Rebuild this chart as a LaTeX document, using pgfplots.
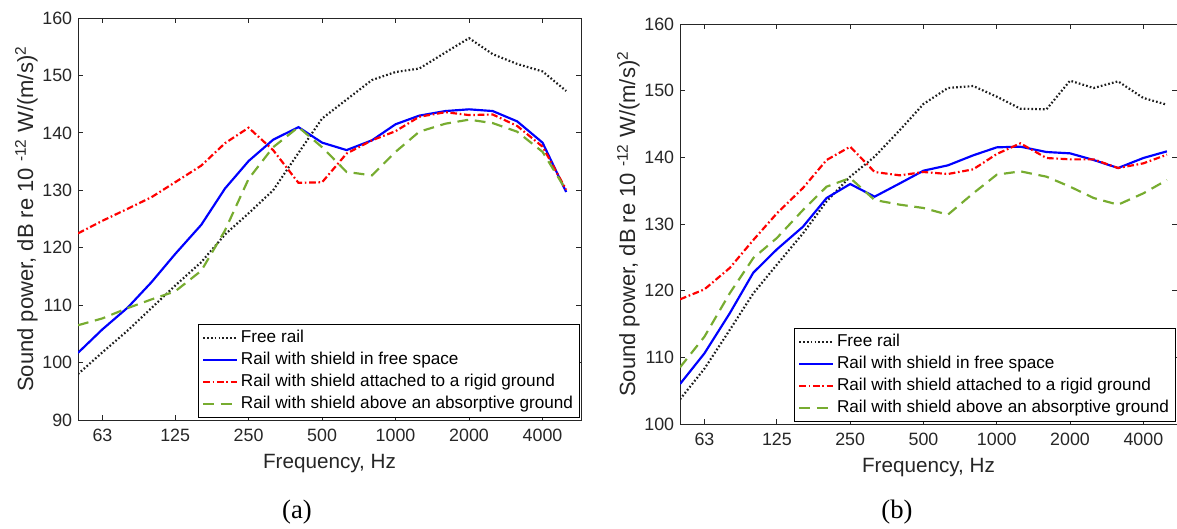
\documentclass[border=0pt]{standalone}
\usepackage{fontspec}
\setmainfont{Liberation Sans}
\newfontfamily\timesfont{Liberation Serif}
\usepackage{pgfplots}
\pgfplotsset{compat=1.18}
\usepackage{pgfplotstable}

\definecolor{axgray}{RGB}{38,38,38}
\definecolor{mgreen}{rgb}{0.466,0.674,0.188}
\definecolor{dotgray}{RGB}{30,30,30}

% columns: frequency, free rail, shield in free space, rigid ground, absorptive ground
\pgfplotstableread{
f     free   blue   red    green
50    98.0   101.7  122.5  106.5
63    101.8  105.8  124.7  107.7
80    105.6  109.6  126.8  109.5
100   109.5  114.0  128.8  111.0
125   113.4  118.9  131.4  112.4
160   117.5  124.0  134.3  116.0
200   122.3  130.3  138.2  123.0
250   126.0  135.1  140.9  132.0
315   130.0  138.8  137.0  137.5
400   136.5  141.0  131.3  141.0
500   142.5  138.3  131.4  137.5
630   145.8  137.0  136.4  133.2
800   149.2  138.7  138.7  132.6
1000  150.6  141.5  140.3  136.7
1250  151.2  143.0  142.8  140.2
1600  154.0  143.8  143.6  141.6
2000  156.5  144.1  143.1  142.3
2500  153.7  143.8  143.2  141.7
3150  152.0  142.0  141.2  140.2
4000  150.7  138.3  137.6  136.7
5000  147.3  129.7  130.1  130.0
}\dataA

\pgfplotstableread{
f     free   blue   red    green
50    103.7  106.0  118.7  108.5
63    108.3  110.6  120.2  113.1
80    114.1  116.6  123.4  119.6
100   119.6  122.7  127.6  124.9
125   123.9  126.2  131.6  127.9
160   128.6  129.6  135.4  132.1
200   133.4  133.9  139.6  135.6
250   137.1  136.0  141.6  136.9
315   140.1  134.1  137.8  133.6
400   144.1  136.1  137.3  132.9
500   148.0  138.0  137.8  132.4
630   150.4  138.8  137.5  131.4
800   150.7  140.3  138.2  134.6
1000  149.1  141.5  140.5  137.4
1250  147.3  141.6  142.1  137.9
1600  147.2  140.8  139.9  137.1
2000  151.5  140.6  139.7  135.6
2500  150.4  139.6  139.7  133.9
3150  151.4  138.4  138.4  132.9
4000  148.9  139.9  139.1  134.6
5000  147.9  140.9  140.4  136.6
}\dataB

\tikzset{
  freestyle/.style={dotgray, line width=1.3pt, dash pattern=on 1.0pt off 1.3pt},
  bluestyle/.style={blue, line width=1.3pt},
  redstyle/.style={red, line width=1.3pt, dash pattern=on 4pt off 1.6pt on 1pt off 1.6pt},
  greenstyle/.style={mgreen, line width=1.3pt, dash pattern=on 6.5pt off 4pt},
}
\pgfplotsset{legend image code/.code={\draw[#1] (0pt,0pt) -- (20.5pt,0pt);}}

\begin{document}
\begin{tikzpicture}
\useasboundingbox (0pt,0pt) rectangle (706.2pt,316.8pt);

\begin{axis}[at={(46.8pt,64.8pt)}, anchor=south west,
  xmode=log, scale only axis, width=301.8pt, height=241.2pt,
  xmin=50, xmax=5750, ymin=90, ymax=160, ytick={90,100,...,160},
  xtick={63,125,250,500,1000,2000,4000},
  xticklabels={63,125,250,500,1000,2000,4000},
  minor xtick={}, minor ytick={},
  tick align=inside, major tick length=3pt,
  axis line style={axgray, line width=0.5pt},
  tick style={axgray, line width=0.5pt},
  ticklabel style={font=\fontsize{10.7}{12}\selectfont, text=axgray},
  xticklabel style={yshift=-2pt},
  yticklabel style={/pgf/number format/assume math mode=true},
  xlabel={Frequency, Hz},
  ylabel={Sound power, dB re 10 \textsuperscript{-12} W/(m/s)\textsuperscript{2}},
  label style={text=axgray},
  xlabel style={font=\fontsize{12.4}{14}\selectfont, at={([yshift=-26pt]axis description cs:0.5,0)}, anchor=center},
  ylabel style={font=\fontsize{13.2}{15}\selectfont, at={([xshift=-31pt]axis description cs:0,0.5)}, anchor=center},
  legend cell align=left,
  legend style={at={(axis description cs:1,0)}, anchor=south east,
    xshift=-1pt, yshift=1.5pt, draw=black, line width=0.5pt, fill=white,
    font=\fontsize{10.3}{12}\selectfont, inner xsep=2pt, inner ysep=1.5pt,
    row sep=0pt,
    nodes={text height=7.5pt, text depth=2.2pt, inner ysep=1.7pt, inner xsep=1.5pt}},
  ]
  \addplot[freestyle] table[x=f, y=free] {\dataA};
  \addplot[bluestyle] table[x=f, y=blue] {\dataA};
  \addplot[redstyle] table[x=f, y=red] {\dataA};
  \addplot[greenstyle] table[x=f, y=green] {\dataA};
  \legend{Free rail, Rail with shield in free space, Rail with shield attached to a rigid ground, Rail with shield above an absorptive ground\hspace{7pt}}
\end{axis}

\begin{axis}[at={(408pt,62.4pt)}, anchor=south west,
  xmode=log, scale only axis, width=298.2pt, height=240pt,
  xmin=50, xmax=5500, ymin=100, ymax=160, ytick={100,110,...,160},
  xtick={63,125,250,500,1000,2000,4000},
  xticklabels={63,125,250,500,1000,2000,4000},
  minor xtick={}, minor ytick={},
  tick align=inside, major tick length=3pt,
  axis line style={axgray, line width=0.5pt},
  tick style={axgray, line width=0.5pt},
  ticklabel style={font=\fontsize{10.7}{12}\selectfont, text=axgray},
  xticklabel style={yshift=-2pt},
  yticklabel style={/pgf/number format/assume math mode=true},
  xlabel={Frequency, Hz},
  ylabel={Sound power, dB re 10 \textsuperscript{-12} W/(m/s)\textsuperscript{2}},
  label style={text=axgray},
  xlabel style={font=\fontsize{12.4}{14}\selectfont, at={([yshift=-26pt]axis description cs:0.5,0)}, anchor=center},
  ylabel style={font=\fontsize{13.2}{15}\selectfont, at={([xshift=-31pt]axis description cs:0,0.5)}, anchor=center},
  legend cell align=left,
  legend style={at={(axis description cs:1,0)}, anchor=south east,
    xshift=-1pt, yshift=1.5pt, draw=black, line width=0.5pt, fill=white,
    font=\fontsize{10.3}{12}\selectfont, inner xsep=2pt, inner ysep=1.5pt,
    row sep=0pt,
    nodes={text height=7.5pt, text depth=2.2pt, inner ysep=1.7pt, inner xsep=1.5pt}},
  ]
  \addplot[freestyle] table[x=f, y=free] {\dataB};
  \addplot[bluestyle] table[x=f, y=blue] {\dataB};
  \addplot[redstyle] table[x=f, y=red] {\dataB};
  \addplot[greenstyle] table[x=f, y=green] {\dataB};
  \legend{Free rail, Rail with shield in free space, Rail with shield attached to a rigid ground, Rail with shield above an absorptive ground\hspace{7pt}}
\end{axis}

\node[font=\timesfont\fontsize{16}{18}\selectfont] at (178.2pt,9.6pt) {(a)};
\node[font=\timesfont\fontsize{16}{18}\selectfont] at (538.2pt,9.6pt) {(b)};
\end{tikzpicture}
\end{document}
